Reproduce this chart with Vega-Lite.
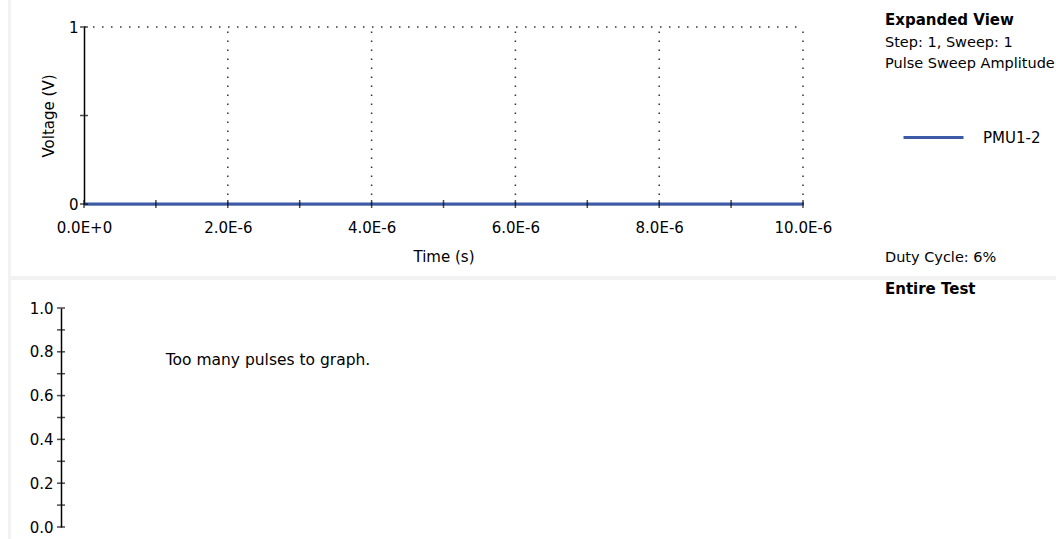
{
  "$schema": "https://vega.github.io/schema/vega-lite/v6.json",
  "background": "#f2f2f2",
  "padding": 0,
  "autosize": {"type": "pad"},
  "spacing": 3,
  "config": {
    "view": {"stroke": null},
    "font": "DejaVu Sans",
    "axis": {"labelFont": "DejaVu Sans", "titleFont": "DejaVu Sans", "labelColor": "#000", "titleColor": "#000"},
    "text": {"font": "DejaVu Sans"}
  },
  "hconcat": [
    {
      "width": 8,
      "height": 539,
      "view": {"fill": "white", "stroke": null},
      "data": {"values": [{}]},
      "mark": {"type": "text"},
      "encoding": {"text": {"value": ""}}
    },
    {
      "spacing": 4,
      "vconcat": [
        {
          "width": 1045,
          "height": 276,
          "view": {"fill": "white", "stroke": null},
          "layer": [
            {
              "data": {"values": [{"time": 2e-6}, {"time": 4e-6}, {"time": 6e-6}, {"time": 8e-6}, {"time": 1e-5}]},
              "mark": {"type": "rule", "strokeDash": [1.5, 7.5], "color": "#333", "strokeWidth": 1.5},
              "encoding": {
                "x": {
                  "field": "time", "type": "quantitative",
                  "scale": {"domain": [0, 1e-5], "range": [73, 792], "nice": false, "zero": false},
                  "axis": {
                    "title": "Time (s)",
                    "values": [0, 2e-6, 4e-6, 6e-6, 8e-6, 1e-5],
                    "labelExpr": "datum.value == 0 ? '0.0E+0' : format(datum.value * 1e6, '.1f') + 'E-6'",
                    "offset": -72,
                    "ticks": false,
                    "tickSize": 0,
                    "labelPadding": 16,
                    "labelFontSize": 15,
                    "labelFlush": false,
                    "labelOverlap": false,
                    "labelBound": false,
                    "titleFontSize": 15,
                    "titleFontWeight": "normal",
                    "titlePadding": 14,
                    "grid": false,
                    "domainColor": "#000",
                    "domainWidth": 1.5
                  }
                },
                "y": {
                  "datum": 0, "type": "quantitative",
                  "scale": {"domain": [0, 1], "range": [204, 27], "nice": false, "zero": false},
                  "axis": {
                    "title": "Voltage (V)",
                    "values": [0, 1],
                    "format": "d",
                    "offset": -73,
                    "ticks": false,
                    "tickSize": 0,
                    "labelPadding": 6,
                    "labelFontSize": 15,
                    "titleFontSize": 15,
                    "titleFontWeight": "normal",
                    "titlePadding": 12,
                    "grid": false,
                    "domainColor": "#000",
                    "domainWidth": 1.5
                  }
                },
                "y2": {"datum": 1}
              }
            },
            {
              "data": {"values": [{"voltage": 1}]},
              "mark": {"type": "rule", "strokeDash": [1.5, 7.5], "color": "#333", "strokeWidth": 1.5},
              "encoding": {
                "y": {"field": "voltage", "type": "quantitative"},
                "x": {"datum": 0},
                "x2": {"datum": 1e-5}
              }
            },
            {
              "data": {"values": [
                {"time": 0, "voltage": 0, "channel": "PMU1-2"},
                {"time": 1e-5, "voltage": 0, "channel": "PMU1-2"}
              ]},
              "mark": {"type": "line", "strokeWidth": 3},
              "encoding": {
                "x": {"field": "time", "type": "quantitative"},
                "y": {"field": "voltage", "type": "quantitative"},
                "color": {
                  "field": "channel", "type": "nominal",
                  "scale": {"domain": ["PMU1-2"], "range": ["#3b5ba8"]},
                  "legend": {
                    "orient": "none",
                    "legendX": 902,
                    "legendY": 106,
                    "title": null,
                    "padding": 0,
                    "symbolType": "stroke",
                    "symbolSize": 3600,
                    "symbolStrokeWidth": 3,
                    "labelFontSize": 15,
                    "labelFont": "DejaVu Sans",
                    "labelColor": "#000",
                    "labelOffset": 18
                  }
                }
              }
            },
            {
              "data": {"values": [
                {"time": 0}, {"time": 1e-6}, {"time": 2e-6}, {"time": 3e-6}, {"time": 4e-6}, {"time": 5e-6},
                {"time": 6e-6}, {"time": 7e-6}, {"time": 8e-6}, {"time": 9e-6}, {"time": 1e-5}
              ]},
              "mark": {"type": "tick", "orient": "vertical", "size": 8, "thickness": 1.5, "color": "#000"},
              "encoding": {
                "x": {"field": "time", "type": "quantitative"},
                "y": {"datum": 0}
              }
            },
            {
              "data": {"values": [{"voltage": 0}, {"voltage": 0.5}, {"voltage": 1}]},
              "mark": {"type": "tick", "orient": "horizontal", "size": 8, "thickness": 1.5, "color": "#000"},
              "encoding": {
                "y": {"field": "voltage", "type": "quantitative"},
                "x": {"datum": 0}
              }
            },
            {
              "data": {"values": [{"label": "Expanded View"}]},
              "mark": {"type": "text", "align": "left", "baseline": "middle", "fontSize": 15, "fontWeight": "bold", "color": "#000"},
              "encoding": {"x": {"datum": 1.114e-5}, "y": {"datum": 1.0395}, "text": {"field": "label"}}
            },
            {
              "data": {"values": [{"label": "Step: 1, Sweep: 1"}]},
              "mark": {"type": "text", "align": "left", "baseline": "middle", "fontSize": 14.5, "color": "#000"},
              "encoding": {"x": {"datum": 1.114e-5}, "y": {"datum": 0.908}, "text": {"field": "label"}}
            },
            {
              "data": {"values": [{"label": "Pulse Sweep Amplitude"}]},
              "mark": {"type": "text", "align": "left", "baseline": "middle", "fontSize": 14.5, "color": "#000"},
              "encoding": {"x": {"datum": 1.114e-5}, "y": {"datum": 0.791}, "text": {"field": "label"}}
            },
            {
              "data": {"values": [{"label": "Duty Cycle: 6%"}]},
              "mark": {"type": "text", "align": "left", "baseline": "middle", "fontSize": 14.5, "color": "#000"},
              "encoding": {"x": {"datum": 1.114e-5}, "y": {"datum": -0.307}, "text": {"field": "label"}}
            }
          ]
        },
        {
          "width": 1045,
          "height": 259,
          "view": {"fill": "white", "stroke": null},
          "layer": [
            {
              "data": {"values": [
                {"level": 0}, {"level": 0.1}, {"level": 0.2}, {"level": 0.3}, {"level": 0.4}, {"level": 0.5},
                {"level": 0.6}, {"level": 0.7}, {"level": 0.8}, {"level": 0.9}, {"level": 1}
              ]},
              "mark": {"type": "tick", "orient": "horizontal", "size": 8, "thickness": 1.5, "color": "#000"},
              "encoding": {
                "y": {
                  "field": "level", "type": "quantitative",
                  "scale": {"domain": [0, 1], "range": [247, 28], "nice": false, "zero": false},
                  "axis": {
                    "title": null,
                    "values": [0, 0.2, 0.4, 0.6, 0.8, 1],
                    "format": ".1f",
                    "offset": -50,
                    "ticks": false,
                    "tickSize": 0,
                    "labelPadding": 8,
                    "labelFontSize": 15,
                    "grid": false,
                    "domainColor": "#000",
                    "domainWidth": 1.5
                  }
                },
                "x": {
                  "datum": 0,
                  "scale": {"domain": [0, 1], "range": [50, 1045], "nice": false, "zero": false},
                  "axis": null
                }
              }
            },
            {
              "data": {"values": [{"label": "Too many pulses to graph."}]},
              "mark": {"type": "text", "align": "left", "baseline": "middle", "fontSize": 15.5, "color": "#000"},
              "encoding": {"x": {"datum": 0.1052, "axis": null}, "y": {"datum": 0.7626}, "text": {"field": "label"}}
            },
            {
              "data": {"values": [{"label": "Entire Test"}]},
              "mark": {"type": "text", "align": "left", "baseline": "middle", "fontSize": 15, "fontWeight": "bold", "color": "#000"},
              "encoding": {"x": {"datum": 0.8281, "axis": null}, "y": {"datum": 1.0868}, "text": {"field": "label"}}
            }
          ]
        }
      ]
    }
  ]
}
